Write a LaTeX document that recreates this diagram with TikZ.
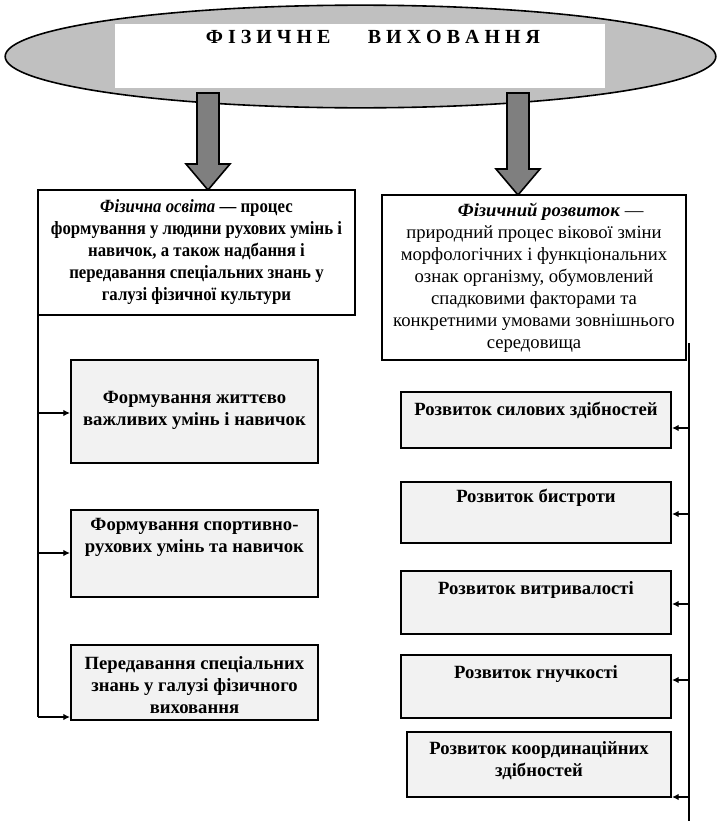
\documentclass[tikz,border=0pt]{standalone}
\usepackage{fontspec}
\setmainfont{Liberation Serif}
\usetikzlibrary{arrows.meta,shapes.geometric,calc}
\definecolor{ovalgray}{HTML}{C0C0C0}
\definecolor{arrowgray}{HTML}{7F7F7F}
\definecolor{boxfill}{HTML}{F2F2F2}
\tikzset{
  ovalnode/.style={draw,ellipse,fill=ovalgray,line width=1.2pt,minimum width=533pt,minimum height=77pt,inner sep=0pt},
  titlenode/.style={fill=white,minimum width=367.5pt,minimum height=48pt,inner sep=0pt},
  mainbox/.style={draw,fill=white,line width=1.6pt,align=center,inner sep=2pt,font=\fontsize{14}{16.5}\selectfont},
  subbox/.style={draw,fill=boxfill,line width=1.6pt,inner sep=0pt},
  subtext/.style={align=center,inner sep=0pt,font=\fontsize{14}{16.5}\selectfont\bfseries},
  railline/.style={line width=1.6pt},
  arrow/.style={-{Latex[length=5pt,width=5pt]},line width=1.6pt},
  pics/bigarrow/.style={code={
    \draw[fill=arrowgray,line width=1.2pt] (-11,0) -- (-11,#1-26) -- (-22,#1-26) -- (0,#1) -- (22,#1-26) -- (11,#1-26) -- (11,0) -- cycle;
  }}
}

\begin{document}
\begin{tikzpicture}[x=0.75pt,y=-0.75pt]
  \useasboundingbox (0,0) rectangle (718,821);

  % Title oval
  \node[ovalnode] (oval) at (360.5,56.5) {};
  \node[titlenode] (title) at (360,56) {};
  \node[font=\fontsize{15}{17}\selectfont\bfseries] (titletext) at (373,37) {Ф І З И Ч Н Е\hspace{28pt}В И Х О В А Н Н Я};

  % Block arrows
  \pic at (208,93) {bigarrow=97};
  \pic at (518,93) {bigarrow=102};

  % Main boxes
  \node[mainbox,minimum width=237.75pt,minimum height=93.75pt,font=\fontsize{14}{16.5}\selectfont\bfseries\addfontfeature{FakeStretch=0.9}] (osvita) at (196.5,252.5)
    {\textit{Фізична освіта} — процес\\формування у людини рухових умінь і\\навичок, а також надбання і\\передавання спеціальних знань у\\галузі фізичної культури};
  \node[mainbox,minimum width=228pt,minimum height=123.75pt] (rozvytok) at (534,277.5)
    {\hspace*{25pt}\textbf{\textit{Фізичний розвиток}} —\\природний процес вікової зміни\\морфологічних і функціональних\\ознак організму, обумовлений\\спадковими факторами та\\конкретними умовами зовнішнього\\середовища};

  % Left branch
  \node[subbox,minimum width=185.25pt,minimum height=77.25pt] (ls1) at (194.5,411.5) {};
  \node[subtext] (ls1t) at (194.5,410.5) {Формування життєво\\важливих умінь і навичок};
  \node[subbox,minimum width=185.25pt,minimum height=65.25pt] (ls2) at (194.5,553.5) {};
  \node[subtext] (ls2t) at (194.5,537.5) {Формування спортивно-\\рухових умінь та навичок};
  \node[subbox,minimum width=185.25pt,minimum height=56.25pt] (ls3) at (194.5,682.5) {};
  \node[subtext] (ls3t) at (194.5,685) {Передавання спеціальних\\знань у галузі фізичного\\виховання};

  % Right branch
  \node[subbox,minimum width=202.5pt,minimum height=42pt] (rs1) at (536,420) {};
  \node[subtext] (rs1t) at (536,410) {Розвиток силових здібностей};
  \node[subbox,minimum width=202.5pt,minimum height=45.75pt] (rs2) at (536,512.5) {};
  \node[subtext] (rs2t) at (536,498) {Розвиток бистроти};
  \node[subbox,minimum width=202.5pt,minimum height=47.25pt] (rs3) at (536,602.5) {};
  \node[subtext] (rs3t) at (536,590) {Розвиток витривалості};
  \node[subbox,minimum width=202.5pt,minimum height=47.25pt] (rs4) at (536,686.5) {};
  \node[subtext] (rs4t) at (536,674) {Розвиток гнучкості};
  \node[subbox,minimum width=198pt,minimum height=48.75pt] (rs5) at (539,764.5) {};
  \node[subtext] (rs5t) at (539,760.5) {Розвиток координаційних\\здібностей};

  % Left rail
  \coordinate (la1) at (38,413);
  \coordinate (la2) at (38,553);
  \coordinate (la3) at (38,717);
  \draw[railline] (la3 |- osvita.south) -- (la3);
  \draw[arrow] (la1) -- (la1 -| ls1.west);
  \draw[arrow] (la2) -- (la2 -| ls2.west);
  \draw[arrow] (la3) -- (la3 -| ls3.west);

  % Right rail
  \coordinate (rtop) at (689,343);
  \coordinate (rbot) at (689,821);
  \coordinate (ra1) at (689,428);
  \coordinate (ra2) at (689,514);
  \coordinate (ra3) at (689,604);
  \coordinate (ra4) at (689,680);
  \coordinate (ra5) at (689,797);
  \draw[railline] (rtop) -- (rbot);
  \draw[arrow] (ra1) -- (ra1 -| rs1.east);
  \draw[arrow] (ra2) -- (ra2 -| rs2.east);
  \draw[arrow] (ra3) -- (ra3 -| rs3.east);
  \draw[arrow] (ra4) -- (ra4 -| rs4.east);
  \draw[arrow] (ra5) -- (ra5 -| rs5.east);
\end{tikzpicture}
\end{document}
